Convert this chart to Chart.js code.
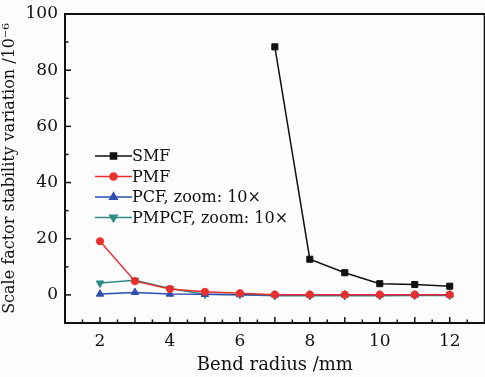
<!DOCTYPE html>
<html>
<head>
<meta charset="utf-8">
<script src="https://cdn.jsdelivr.net/npm/chart.js@4"></script>
<style>
  html,body{margin:0;padding:0;background:#fcfcfc;overflow:hidden;}
  #wrap{width:485px;height:377px;position:relative;overflow:hidden;}
</style>
</head>
<body>
<div id="wrap"><canvas id="c" width="490" height="377"></canvas></div>
<script>
// data
const radius = [2, 3, 4, 5, 6, 7, 8, 9, 10, 11, 12];
const smf    = [null, null, null, null, null, 88.3, 12.7, 7.9, 4.0, 3.7, 3.1];
const pmf    = [19.1, 4.9, 2.1, 1.1, 0.6, 0.1, 0.1, 0.1, 0.1, 0.1, 0.1];
const pcf    = [0.3, 0.9, 0.3, 0.2, 0.1, 0.0, 0.0, 0.0, 0.0, 0.0, 0.0];
const pmpcf  = [4.2, 5.2, 2.3, 0.2, 0.1, -0.3, -0.3, -0.3, -0.3, -0.2, -0.2];
const xTickLabels = [2, 4, 6, 8, 10, 12];
const yTickLabels = [0, 20, 40, 60, 80, 100];

const serif = '"DejaVu Serif", "Liberation Serif", serif';

function pts(arr){ return radius.map((x,i)=>({x:x,y:arr[i]})).filter(p=>p.y!==null); }

// inward ticks + full box + in-plot legend
const frame = {
  id:'frame',
  afterDraw(chart){
    const {ctx, chartArea:a, scales:{x,y}} = chart;
    ctx.save();
    ctx.strokeStyle = '#111';
    ctx.lineWidth = 1.5;
    x.ticks.forEach(t=>{
      const px = x.getPixelForValue(t.value);
      const len = Number.isInteger(t.value) ? 6 : 3.5;
      ctx.beginPath(); ctx.moveTo(px, a.bottom); ctx.lineTo(px, a.bottom-len); ctx.stroke();
    });
    y.ticks.forEach(t=>{
      const py = y.getPixelForValue(t.value);
      const len = (t.value % 20 === 0) ? 6 : 3.5;
      ctx.beginPath(); ctx.moveTo(a.left, py); ctx.lineTo(a.left+len, py); ctx.stroke();
    });
    ctx.lineWidth = 2;
    ctx.strokeRect(a.left, a.top, a.right-a.left, a.bottom-a.top);

    // legend
    ctx.font = '16px ' + serif;
    ctx.textBaseline = 'middle';
    let ly = 156;
    chart.data.datasets.forEach(ds=>{
      const x0 = 95, x1 = 132, xm = (x0+x1)/2;
      ctx.strokeStyle = ds.borderColor; ctx.fillStyle = ds.backgroundColor; ctx.lineWidth = 1.5;
      ctx.beginPath(); ctx.moveTo(x0, ly); ctx.lineTo(x1, ly); ctx.stroke();
      Chart.helpers.drawPoint(ctx, {pointStyle: ds.pointStyle, radius: ds.pointRadius, rotation: ds.pointRotation||0, borderWidth:1}, xm, ly);
      ctx.fillStyle = '#111';
      ctx.fillText(ds.label, x1, ly+1);
      ly += 20.5;
    });
    ctx.restore();
  }
};

function ds(label, data, color, style, r, rot){
  return {label, data: pts(data), borderColor: color, backgroundColor: color,
    pointStyle: style, pointRadius: r, pointRotation: rot||0, pointBorderWidth: 1,
    borderWidth: 1.5, tension: 0, spanGaps: false};
}

new Chart(document.getElementById('c'), {
  type: 'line',
  data: {
    datasets: [
      ds('SMF', smf, '#111111', 'rect', 4.3),
      ds('PMF', pmf, '#e8312f', 'circle', 3.6),
      ds('PCF, zoom: 10\u00d7', pcf, '#2f4fb0', 'triangle', 4.3),
      ds('PMPCF, zoom: 10\u00d7', pmpcf, '#2e8b84', 'triangle', 4.3, 180)
    ]
  },
  options: {
    responsive: false,
    animation: false,
    layout: {padding: {top: 14, right: 0, left: 0, bottom: 0}},
    plugins: {legend: {display: false}, tooltip: {enabled: false}},
    scales: {
      x: {
        type: 'linear', min: 1, max: 13,
        grid: {display: false, drawTicks: false},
        border: {display: false},
        afterFit(s){ s.height = 54; s.paddingRight = 0; s.paddingLeft = 0; },
        ticks: {
          stepSize: 0.5, autoSkip: false, maxRotation: 0, padding: 8,
          color: '#111', font: {family: serif, size: 17},
          callback: v => xTickLabels.includes(v) ? String(v) : ''
        },
        title: {display: true, text: 'Bend radius /mm', color: '#111',
          font: {family: serif, size: 18}, padding: {top: 0, bottom: 1}}
      },
      y: {
        min: -10, max: 100,
        grid: {display: false, drawTicks: false},
        border: {display: false},
        afterFit(s){ s.width = 65; s.paddingTop = 0; s.paddingBottom = 0; },
        ticks: {
          stepSize: 10, autoSkip: false, padding: 7,
          color: '#111', font: {family: serif, size: 17},
          callback: v => yTickLabels.includes(v) ? String(v) : ''
        },
        title: {display: true, text: 'Scale factor stability variation /10\u207b\u2076', color: '#111',
          font: {family: serif, size: 16}, padding: {top: 0, bottom: 1}}
      }
    }
  },
  plugins: [frame]
});
</script>
</body>
</html>
